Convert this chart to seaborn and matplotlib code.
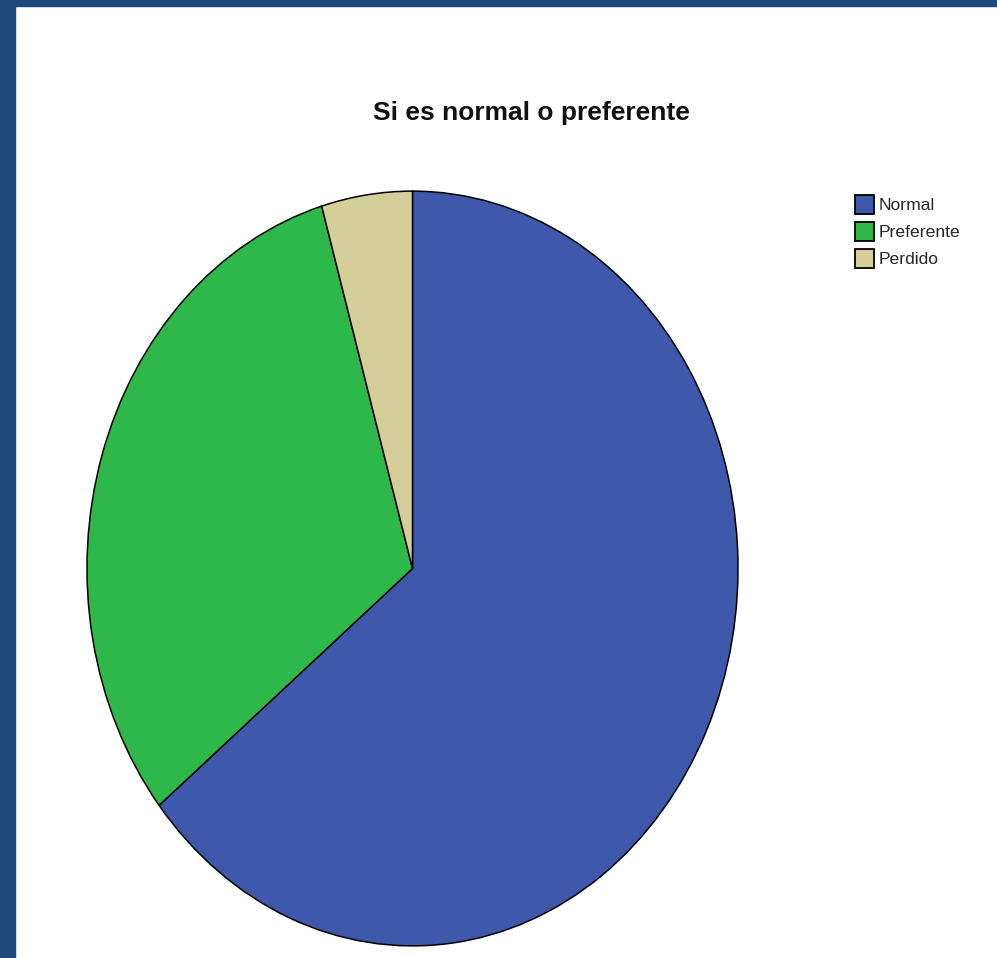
import matplotlib
matplotlib.use("Agg")
import matplotlib.pyplot as plt
from matplotlib.patches import Rectangle, Patch
import seaborn as sns

categories = ["Normal", "Preferente", "Perdido"]
values = [64.2, 31.3, 4.5]
colors = ["#3E59AC", "#2FB84A", "#D3CE9A"]
title = "Si es normal o preferente"

sns.set_theme(style="white")
plt.rcParams["font.family"] = ["Liberation Sans", "DejaVu Sans"]

W, H = 997, 958
fig = plt.figure(figsize=(W / 100, H / 100), dpi=100)
fig.patch.set_facecolor("white")

border = "#1F497D"
fig.patches.append(Rectangle((0, 0), 15 / W, 1, transform=fig.transFigure, color=border, zorder=0))
fig.patches.append(Rectangle((0, 1 - 6 / H), 1, 6 / H, transform=fig.transFigure, color=border, zorder=0))

left, right, top, bottom = 86, 739, 190, 947
ax = fig.add_axes([left / W, (H - bottom) / H, (right - left) / W, (bottom - top) / H])
ax.pie(values, colors=colors, startangle=90, counterclock=False,
       wedgeprops=dict(edgecolor="black", linewidth=1.1))
ax.set_xlim(-1.003, 1.003)
ax.set_ylim(-1.003, 1.003)
ax.set_aspect("auto")
ax.axis("off")

fig.text(531 / W, 1 - 113 / H, title, ha="center", va="center",
         fontsize=19, fontweight="bold", color="#111111")

handles = [Patch(facecolor=c, edgecolor="black", linewidth=1.3) for c in colors]
fig.legend(handles, categories, loc="upper left", bbox_to_anchor=(855 / W, 1 - 195 / H),
           frameon=False, fontsize=12.6,
           handlelength=1.07, handleheight=1.3,
           handletextpad=0.3, labelspacing=0.44, borderaxespad=0, borderpad=0)

fig.savefig("out.png", dpi=100, facecolor="white")
